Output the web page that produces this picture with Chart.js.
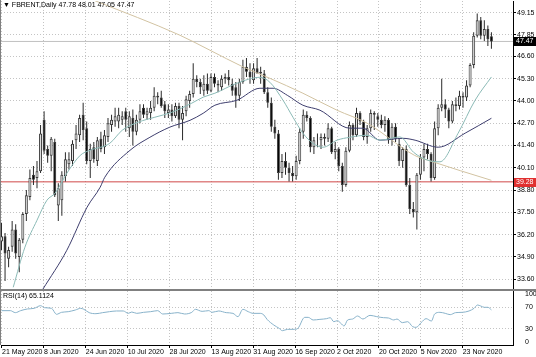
<!DOCTYPE html>
<html><head><meta charset="utf-8">
<script src="https://cdn.jsdelivr.net/npm/chart.js@4.4.1/dist/chart.umd.min.js"></script>
<style>
html,body{margin:0;padding:0;background:#fff;}
#wrap{position:relative;width:536px;height:357px;overflow:hidden;background:#fff;font-family:"Liberation Sans",Arial,sans-serif;}
canvas{position:absolute;left:0;}
#c1{top:0;} #c2{top:291px;}
.lbl{position:absolute;font-size:7px;line-height:8px;color:#000;white-space:pre;}
.sep{position:absolute;left:0;width:536px;height:2px;background:#808080;top:289px;}
.lft{position:absolute;left:0;top:0;width:1px;height:345px;background:#808080;}
</style></head><body>
<div id="wrap">
<canvas id="c1" width="536" height="291"></canvas>
<canvas id="c2" width="536" height="66"></canvas>
<div class="sep"></div>
<div class="lft"></div>
<div class="lbl" style="left:3px;top:1px;">▼ FBRENT,Daily 47.78 48.01 47.05 47.47</div>
<div class="lbl" style="left:3px;top:292px;">RSI(14) 65.1124</div>
</div>
<script>
// ---------- data ----------
const tickBars = [0,12,24,36,48,60,72,84,96,108,120,132];
const tickLabels = ['21 May 2020','8 Jun 2020','24 Jun 2020','10 Jul 2020','28 Jul 2020','13 Aug 2020','31 Aug 2020','16 Sep 2020','2 Oct 2020','20 Oct 2020','5 Nov 2020','23 Nov 2020'];
const priceTicks = [49.15,47.85,46.60,45.30,44.00,42.70,41.40,40.10,38.80,37.50,36.20,34.90,33.60];
const rsiTickLabels = ['100','70','30','0'];

const open = [
35.8,36.1,34.8,35.5,36.5,34.9,35.9,37.4,38.4,39.7,
39.5,39.9,42.9,41.2,40.8,41.6,37.9,38.2,39.6,40.3,
40.5,41.7,42.0,43.2,42.4,40.5,41.3,40.5,41.8,41.3,
41.9,42.6,42.8,42.8,42.9,43.4,42.4,43.0,42.2,42.9,
43.6,43.2,43.3,43.6,44.3,44.2,43.8,43.3,43.5,43.1,
43.7,42.9,43.4,44.0,44.4,45.3,45.1,44.6,45.0,44.6,
45.4,45.0,44.8,45.3,45.4,45.0,44.8,44.3,45.1,46.0,
45.7,45.2,45.9,45.6,45.6,44.5,43.9,42.5,42.1,39.8,
40.5,40.1,39.8,39.6,40.5,42.2,43.2,43.0,41.3,41.7,
41.7,41.9,41.8,42.4,41.0,41.2,40.2,39.1,41.1,42.6,
42.0,43.3,42.8,41.9,42.4,43.3,43.1,42.9,42.6,42.9,
41.7,42.5,41.5,40.5,41.2,39.1,37.7,37.5,39.7,40.7,
41.2,40.9,39.5,42.4,43.6,43.8,43.5,42.8,43.8,43.7,
44.3,44.2,44.9,46.1,47.8,48.7,47.8,48.2,47.78];
const high = [
36.9,36.3,35.5,37.0,36.8,36.0,37.5,38.8,40.0,40.2,
40.5,42.6,43.4,41.4,41.9,41.8,39.2,39.9,41.0,41.0,
41.7,42.6,43.2,43.9,42.8,41.5,41.6,41.9,42.2,42.3,
43.0,43.2,43.6,43.6,43.4,43.6,43.4,43.5,43.2,43.8,
43.8,43.6,44.0,44.8,44.5,44.6,44.0,43.8,43.8,43.9,
43.9,43.7,44.3,44.6,46.2,45.5,45.3,45.5,45.6,45.6,
45.6,45.2,45.5,45.6,45.8,45.3,45.1,45.3,46.4,46.5,
46.2,46.2,46.5,46.0,45.8,44.8,44.2,42.9,42.3,40.9,
41.0,40.4,40.2,40.8,42.4,43.5,43.4,43.1,41.9,42.1,
42.1,42.1,42.7,42.5,41.6,41.3,40.4,41.3,42.8,42.7,
43.6,43.4,42.9,42.6,43.5,43.4,43.3,43.2,43.1,43.0,
42.7,42.7,41.8,41.3,41.4,39.5,38.1,39.8,40.9,41.5,
41.5,41.0,42.8,43.8,45.3,44.1,43.6,44.0,44.2,44.6,
44.5,45.2,46.2,48.0,49.1,48.9,48.7,48.4,48.01];
const low = [
35.3,33.5,34.3,35.2,34.8,34.0,35.7,37.0,38.2,39.1,
38.9,39.8,40.9,40.4,39.9,38.4,37.0,37.3,39.3,40.0,
40.2,41.2,41.6,41.7,40.3,39.5,40.4,40.2,41.0,40.9,
41.6,42.2,42.5,42.4,42.6,42.2,41.9,41.4,42.0,42.7,
43.0,42.9,42.9,43.4,43.8,43.6,43.0,43.0,42.8,43.0,
42.4,41.7,43.1,43.6,44.2,44.8,44.4,44.3,44.4,44.5,
44.8,44.5,44.6,45.0,44.9,44.3,43.6,44.0,45.0,45.4,
45.0,45.0,45.6,45.0,44.4,43.6,42.2,41.8,39.4,39.5,
39.7,39.3,39.3,39.4,40.3,41.8,42.8,41.0,40.9,41.3,
41.2,41.4,41.6,40.9,40.6,39.9,38.7,39.0,41.0,41.7,
41.9,42.6,41.7,41.5,42.2,42.3,42.5,42.4,42.2,41.5,
41.4,41.6,40.2,40.1,39.0,37.4,37.2,36.5,39.4,39.9,
40.6,39.3,39.4,42.0,43.4,43.0,42.4,42.7,43.4,43.5,
43.6,44.0,44.8,45.9,47.7,47.6,47.5,47.2,47.05];
const close = [
36.1,35.1,35.3,36.5,35.1,35.9,37.4,38.5,39.5,39.4,
39.9,42.1,41.1,40.8,41.8,38.5,38.9,39.7,40.6,40.6,
41.5,42.1,43.0,42.3,40.5,41.2,40.6,41.7,41.2,42.0,
42.7,42.9,43.1,43.2,43.1,42.9,43.1,42.2,42.9,43.4,
43.2,43.4,43.6,44.3,44.2,43.7,43.4,43.5,43.1,43.7,
42.9,43.3,44.1,44.4,45.3,45.1,44.8,45.0,44.6,45.4,
45.0,44.9,45.3,45.4,45.2,44.6,44.3,45.1,46.0,45.7,
45.4,45.9,45.6,45.7,44.5,43.9,42.5,42.1,39.8,40.5,
40.1,39.8,39.6,40.5,42.2,43.2,43.0,41.3,41.7,41.7,
41.9,41.8,42.4,41.0,41.2,40.2,39.1,41.1,42.6,42.0,
43.3,42.8,41.9,42.4,43.3,43.2,42.9,42.6,42.9,41.7,
42.5,41.8,40.5,41.2,39.1,37.7,37.5,39.7,40.7,41.2,
40.9,39.5,42.4,43.6,43.8,43.5,42.8,43.8,43.7,44.3,
44.2,44.9,46.1,47.8,48.7,47.8,48.2,47.6,47.47];

// moving averages and RSI: [bar, value]
const maFast = [[3.3,33.13],[6.6,35.47],[10.0,37.04],[12.8,38.21],[15.1,38.62],[18.4,39.78],[22.2,40.83],[24.9,41.12],[30.5,41.53],[34.0,42.29],[38.5,42.76],[43.2,43.05],[48.0,43.34],[53.6,43.87],[56.8,44.22],[60.1,44.45],[66.3,45.03],[72.8,45.38],[75.6,45.09],[79.3,44.04],[82.1,43.05],[84.9,42.12],[87.7,41.53],[90.6,41.30],[94.5,41.71],[98.1,41.88],[103.0,42.0],[106.6,41.71],[112.2,41.9],[116.1,41.0],[120.1,40.54],[123.5,40.45],[128.6,42.11],[133.4,44.04],[138,45.4]];
const maSlow = [[11.6,33.0],[18.4,35.29],[24.1,37.80],[27.8,38.97],[29.1,39.55],[36.2,41.12],[41.8,41.88],[47.4,42.47],[53.1,42.87],[56.8,43.28],[60.1,43.75],[66.3,44.04],[72.8,44.74],[76.5,44.74],[80.5,44.33],[84.9,43.75],[89.7,43.46],[98.1,42.41],[101.8,42.41],[106.6,41.71],[113.1,41.82],[116.5,41.71],[123.0,41.30],[130.6,42.12],[138,42.99]];
const maLong = [[26.3,49.85],[50.3,47.83],[58.7,46.96],[68.1,45.98],[75.6,45.32],[84.9,44.45],[94.5,43.46],[103.0,42.70],[116.4,40.82],[120.7,40.50],[138,39.37]];
const rsi14 = [[0,63.6],[2.5,63.6],[3.9,59.9],[5.4,63.6],[7.3,66.7],[9.2,67.9],[11.0,72.8],[12.1,69.1],[14.1,67.9],[15.5,56.8],[16.9,60.5],[18.8,61.7],[20.8,64.8],[22.3,67.9],[23.2,66.1],[24.7,59.9],[26.6,58.0],[28.5,59.9],[30.4,61.7],[32.4,63.0],[34.3,63.0],[35.7,58.6],[36.7,61.1],[38.1,58.6],[40.0,60.5],[42.0,61.7],[44.0,63.6],[45.4,57.4],[47.8,58.6],[49.7,59.9],[51.6,57.4],[53.6,60.5],[54.6,66.1],[56.5,62.3],[58.4,63.6],[59.3,60.5],[61.2,63.0],[63.3,59.9],[65.2,58.6],[66.6,52.5],[68.0,66.1],[69.5,61.7],[70.9,58.6],[72.9,58.6],[73.9,55.6],[74.8,47.5],[76.7,37.0],[78.2,30.9],[79.1,26.5],[80.6,29.0],[82.5,29.0],[83.5,30.9],[85.4,51.2],[86.4,51.2],[87.8,46.3],[89.7,47.5],[91.6,48.8],[92.6,50.6],[93.6,43.2],[94.6,45.1],[95.6,40.1],[96.5,35.2],[97.5,46.3],[98.9,48.1],[100.3,53.7],[101.8,48.1],[103.8,54.9],[105.7,52.5],[107.6,50.6],[109.0,50.0],[110.5,46.3],[111.4,48.1],[112.9,41.4],[114.4,43.2],[115.8,34.0],[116.8,32.7],[118.2,41.4],[119.6,48.8],[121.1,44.4],[122.0,57.4],[123.5,60.5],[125.0,58.6],[126.4,56.2],[127.9,59.9],[129.8,60.5],[131.7,63.0],[133.1,67.9],[134.1,74.1],[135.0,72.2],[136.0,69.8],[137.0,69.8],[138,65.1]];
const supportLevel = 39.28;
const lastPrice = 47.47;

// ---------- chart ----------
const xMin = -0.14, xMax = 144.08;
// the time labels / vertical grid of the source sit on a slightly tighter pitch than the candles
const tickPos = b => (2 + b * 3.49 - 1.5) / 3.55;
const gridCol = '#c4c4c4';
const bullFill = '#e6e6e6', bearFill = '#000000';
const pts = a => a.map(p => ({x:p[0], y:p[1]}));
const noPad = s => { s.paddingTop = 0; s.paddingBottom = 0; s.paddingLeft = 0; s.paddingRight = 0; };
const fnt = {family:'"Liberation Sans", Arial, sans-serif', size:7};

const boxPlugin = {
  id:'boxes',
  afterDraw(chart){
    const ctx = chart.ctx, y = chart.scales.y, a = chart.chartArea;
    const box = (v, bg) => {
      const py = Math.round(y.getPixelForValue(v));
      ctx.save();
      ctx.fillStyle = bg; ctx.fillRect(a.right + 1, py - 4, 22, 9);
      ctx.fillStyle = '#fff'; ctx.font = '7px "Liberation Sans", Arial, sans-serif';
      ctx.textBaseline = 'middle'; ctx.textAlign = 'left';
      ctx.fillText(v.toFixed(2), a.right + 3, py + 0.5);
      ctx.restore();
    };
    box(lastPrice, '#000');
    box(supportLevel, '#e03030');
  }
};

new Chart(document.getElementById('c1'), {
  type:'bar',
  data:{datasets:[
    {type:'line', order:0, data:pts(maFast), borderColor:'#8bbab6', borderWidth:1, pointRadius:0, cubicInterpolationMode:'monotone'},
    {type:'line', order:0, data:pts(maSlow), borderColor:'#3e3e6e', borderWidth:1, pointRadius:0, cubicInterpolationMode:'monotone'},
    {type:'line', order:0, data:pts(maLong), borderColor:'#d2c3a2', borderWidth:1, pointRadius:0, cubicInterpolationMode:'monotone'},
    {type:'line', order:3, data:[{x:xMin-5,y:supportLevel},{x:xMax+5,y:supportLevel}], borderColor:'#d04848', borderWidth:1, pointRadius:0},
    {type:'line', order:3, data:[{x:xMin-5,y:lastPrice},{x:xMax+5,y:lastPrice}], borderColor:'#c0c0c0', borderWidth:1, pointRadius:0},
    {type:'bar', order:1, grouped:false, data:open.map((o,i)=>({x:i,y:[o,close[i]]})),
      backgroundColor:open.map((o,i)=> close[i]>=o ? bullFill : bearFill),
      borderColor:'#3a3a3a', borderWidth:1, borderSkipped:false, barThickness:3, inflateAmount:0},
    {type:'bar', order:2, grouped:false, data:low.map((l,i)=>({x:i,y:[l,high[i]]})),
      backgroundColor:'#2a2a2a', borderWidth:0, barThickness:1, inflateAmount:0}
  ]},
  options:{
    responsive:false, animation:false, events:[], devicePixelRatio:1,
    layout:{padding:{left:1, top:1, bottom:2, right:0}},
    plugins:{legend:{display:false}, tooltip:{enabled:false}},
    scales:{
      x:{type:'linear', min:xMin, max:xMax, offset:false,
        grid:{color:gridCol, drawTicks:false, offset:false},
        border:{display:false, dash:[1,2]},
        ticks:{display:false},
        afterBuildTicks:s=>{ s.ticks = tickBars.map(b=>({value:tickPos(b)})); },
        afterFit:s=>{ s.height = 0; noPad(s); }},
      y:{position:'right', min:33.03, max:49.83,
        grid:{color:gridCol, drawTicks:true, tickLength:3, tickColor:'#000', tickBorderDash:[]},
        border:{display:true, color:'#000', dash:[1,2]},
        ticks:{font:fnt, color:'#000', padding:1, callback:v=>Number(v).toFixed(2)},
        afterBuildTicks:s=>{ s.ticks = priceTicks.map(v=>({value:v})); },
        afterFit:s=>{ s.width = 23; noPad(s); }}
    }
  },
  plugins:[boxPlugin]
});

new Chart(document.getElementById('c2'), {
  type:'line',
  data:{datasets:[
    {data:pts(rsi14), borderColor:'#88b2ca', borderWidth:1, pointRadius:0, cubicInterpolationMode:'monotone', yAxisID:'y'}
  ]},
  options:{
    responsive:false, animation:false, events:[], devicePixelRatio:1,
    layout:{padding:{left:1, top:0, bottom:0, right:0}},
    plugins:{legend:{display:false}, tooltip:{enabled:false}},
    scales:{
      x:{type:'linear', min:xMin, max:xMax, offset:false, position:'bottom',
        grid:{color:gridCol, drawTicks:true, tickLength:3, tickColor:'#000', offset:false},
        border:{display:true, color:'#000', dash:[1,2]},
        ticks:{font:fnt, color:'#000', padding:0, align:'start', autoSkip:false, maxRotation:0, minRotation:0,
          callback:(v,i)=>tickLabels[i]},
        afterBuildTicks:s=>{ s.ticks = tickBars.map(b=>({value:tickPos(b)})); },
        afterFit:s=>{ s.height = 12; noPad(s); }},
      y:{position:'right', min:0, max:100,
        grid:{color:gridCol, drawTicks:false},
        border:{display:false, dash:[1,2]},
        ticks:{display:false},
        afterBuildTicks:s=>{ s.ticks = [{value:30},{value:70}]; },
        afterFit:s=>{ s.width = 0; noPad(s); }},
      yl:{position:'right', min:0, max:100,
        grid:{display:false},
        border:{display:true, color:'#000'},
        ticks:{font:fnt, color:'#000', padding:4, callback:(v,i)=>rsiTickLabels[i]},
        afterBuildTicks:s=>{ s.ticks = [93.5,70,30,5.6].map(v=>({value:v})); },
        afterFit:s=>{ s.width = 23; noPad(s); }}
    }
  }
});
</script>
</body></html>
